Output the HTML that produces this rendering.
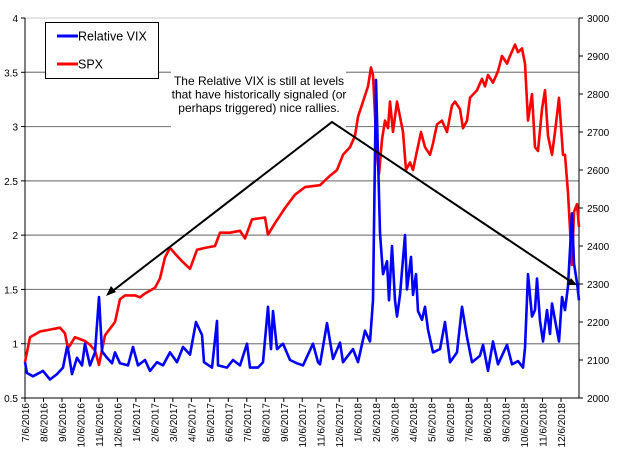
<!DOCTYPE html>
<html><head><meta charset="utf-8"><style>
html,body{margin:0;padding:0;background:#fff}
svg{display:block;font-family:"Liberation Sans",Arial,sans-serif}
</style></head><body>
<svg id="chart" width="624" height="467" viewBox="0 0 624 467"></svg>
<script>
// x positions given as months since 7/6/2016
const dateLabels = ["7/6/2016","8/6/2016","9/6/2016","10/6/2016","11/6/2016","12/6/2016","1/6/2017","2/6/2017","3/6/2017","4/6/2017","5/6/2017","6/6/2017","7/6/2017","8/6/2017","9/6/2017","10/6/2017","11/6/2017","12/6/2017","1/6/2018","2/6/2018","3/6/2018","4/6/2018","5/6/2018","6/6/2018","7/6/2018","8/6/2018","9/6/2018","10/6/2018","11/6/2018","12/6/2018"];
const leftTicks = [0.5,1,1.5,2,2.5,3,3.5,4];
const rightTicks = [2000,2100,2200,2300,2400,2500,2600,2700,2800,2900,3000];
const spxX = [25,30,40,50,60,65,68,75,85,90,95,99,105,115,120,125,135,140,145,155,160,165,170,175,182,190,197,205,215,220,230,240,245,252,265,268,275,285,295,305,320,330,337,343,350,355,358,363,368,371,373,377,379,382,385,388,390,393,397,400,403,406,410,413,417,421,425,430,433,437,442,447,452,455,460,463,467,470,477,482,485,488,493,498,502,507,510,515,518,522,525,528,532,535,538,542,545,548,552,555,559,563,565,568,572,574,577,579];
const spxV = [2095,2160,2175,2180,2185,2170,2130,2160,2150,2140,2125,2087,2165,2200,2260,2270,2270,2265,2275,2290,2315,2370,2395,2380,2360,2340,2390,2395,2400,2435,2435,2440,2420,2470,2475,2430,2460,2500,2535,2555,2560,2585,2600,2640,2660,2690,2740,2780,2820,2870,2850,2640,2590,2680,2730,2710,2780,2700,2780,2740,2700,2600,2620,2600,2650,2700,2660,2640,2670,2720,2730,2700,2770,2780,2760,2710,2730,2790,2810,2840,2820,2850,2830,2860,2900,2880,2900,2930,2910,2920,2880,2730,2800,2660,2650,2760,2810,2690,2640,2700,2790,2640,2640,2540,2350,2490,2510,2450];
const vixX = [25,27,33,43,50,57,63,67,68,72,77,82,85,90,95,99,102,107,112,115,120,128,133,138,145,150,157,163,170,177,183,190,196,202,204,212,217,218,227,233,240,247,250,258,263,268,271,273,277,283,290,297,303,313,318,320,327,333,340,343,353,358,365,370,373,376,380,383,387,389,392,395,397,400,405,407,411,413,416,418,422,425,428,433,440,445,450,457,462,467,472,480,483,488,493,498,507,512,518,523,525,528,532,535,537,540,543,547,550,552,557,559,562,565,568,572,574,577,579];
const vixV = [0.83,0.73,0.70,0.75,0.67,0.72,0.78,0.97,0.95,0.72,0.87,0.80,1.0,0.80,0.92,1.43,0.93,0.87,0.82,0.92,0.82,0.80,0.97,0.80,0.85,0.75,0.83,0.80,0.92,0.83,0.97,0.90,1.20,1.08,0.83,0.78,1.21,0.80,0.78,0.85,0.80,1.0,0.78,0.78,0.83,1.34,0.95,1.30,0.95,1.0,0.85,0.82,0.80,1.0,0.83,0.81,1.19,0.86,1.01,0.83,0.95,0.83,1.12,1.02,1.40,3.43,2.02,1.64,1.76,1.40,1.90,1.40,1.25,1.45,2.0,1.50,1.80,1.45,1.64,1.30,1.22,1.34,1.13,0.92,0.95,1.20,0.83,0.92,1.34,1.06,0.83,0.89,0.99,0.75,1.02,0.81,0.99,0.81,0.84,0.78,0.96,1.64,1.25,1.31,1.60,1.21,1.02,1.31,1.09,1.37,1.12,1.02,1.43,1.31,1.53,2.20,1.74,1.56,1.40];

const NS="http://www.w3.org/2000/svg";
const svg=document.getElementById('chart');
const L=25,R=579,T=18,B=398;
const yL=v=>B-(v-0.5)/3.5*(B-T);
const yR=v=>B-(v-2000)/1000*(B-T);
const xM=i=>L+i*(561-L)/29;
function mk(tag,attrs,parent){const e=document.createElementNS(NS,tag);for(const k in attrs)e.setAttribute(k,attrs[k]);(parent||svg).appendChild(e);return e;}

// top border
let tb=mk('line',{x1:L,y1:T,x2:R,y2:T,stroke:'#c8c8c8','stroke-width':1});



// gridlines
leftTicks.forEach(v=>{
  if(v===0.5||v===4)return;
  const g=mk('line',{x1:L,y1:yL(v),x2:R,y2:yL(v),stroke:'#808080','stroke-width':1.2});
  
  
});
// axes
let la=mk('line',{x1:L,y1:T,x2:L,y2:B,stroke:'#000','stroke-width':1});


let ra=mk('line',{x1:R,y1:T,x2:R,y2:B,stroke:'#000','stroke-width':1});


let ba=mk('line',{x1:L,y1:B,x2:R,y2:B,stroke:'#000','stroke-width':1});



leftTicks.forEach(v=>{
  mk('line',{x1:L-4,y1:yL(v),x2:L,y2:yL(v),stroke:'#000'});
  const t=mk('text',{x:L-7,y:yL(v)+4,'font-size':10,'text-anchor':'end',fill:'#000'});
  t.textContent=String(v);
  
  
});
rightTicks.forEach(v=>{
  mk('line',{x1:R,y1:yR(v),x2:R+4,y2:yR(v),stroke:'#000'});
  const t=mk('text',{x:R+8,y:yR(v)+4,'font-size':10,fill:'#000'});
  t.textContent=String(v);
  
  
});
dateLabels.forEach((d,i)=>{
  const x=xM(i);
  mk('line',{x1:x,y1:B,x2:x,y2:B+4,stroke:'#000'});
  const t=mk('text',{x:0,y:0,'font-size':10,'text-anchor':'end',fill:'#000',transform:`translate(${x+4},${B+5}) rotate(-90)`});
  t.textContent=d;
  
  
});

// annotation box (white) covering gridlines
let ab=mk('rect',{x:171,y:64,width:175,height:67,fill:'#fff'});


const lines=["The Relative VIX is still at levels","that have historically signaled (or","perhaps triggered) nice rallies."];
lines.forEach((s,i)=>{
  const t=mk('text',{x:259,y:85+i*13.5,'font-size':12,'text-anchor':'middle',fill:'#000'});
  t.textContent=s;
  
  
});

// series
function path(xs,vs,yf){return xs.map((x,i)=>(i?'L':'M')+x+','+yf(vs[i]).toFixed(1)).join(' ');}
let sp=mk('path',{d:path(spxX,spxV,yR),fill:'none',stroke:'#ff0000','stroke-width':2.6,'stroke-linejoin':'round'});


let vp=mk('path',{d:path(vixX,vixV,yL),fill:'none',stroke:'#0000ff','stroke-width':2.6,'stroke-linejoin':'round'});



// arrows
let ar=mk('polyline',{points:'110,293 332,122 573,283',fill:'none',stroke:'#000','stroke-width':2});


let h1=mk('polygon',{points:'106,296 111,286 116,292',fill:'#000'});


let h2=mk('polygon',{points:'577,285 567,285 571,278',fill:'#000'});



// legend
const lg=mk('g',{});


mk('rect',{x:45.5,y:22.5,width:113,height:56,fill:'#fff',stroke:'#000','stroke-width':1},lg);
[["Relative VIX","#0000ff",36],["SPX","#ff0000",64]].forEach(([n,c,y])=>{
  const g=mk('g',{},lg);
  
  
  mk('line',{x1:57,y1:y,x2:78,y2:y,stroke:c,'stroke-width':3},g);
  const t=mk('text',{x:78,y:y+4.5,'font-size':12.5,fill:'#000'},g);
  t.textContent=n;
});
</script>
</body></html>
